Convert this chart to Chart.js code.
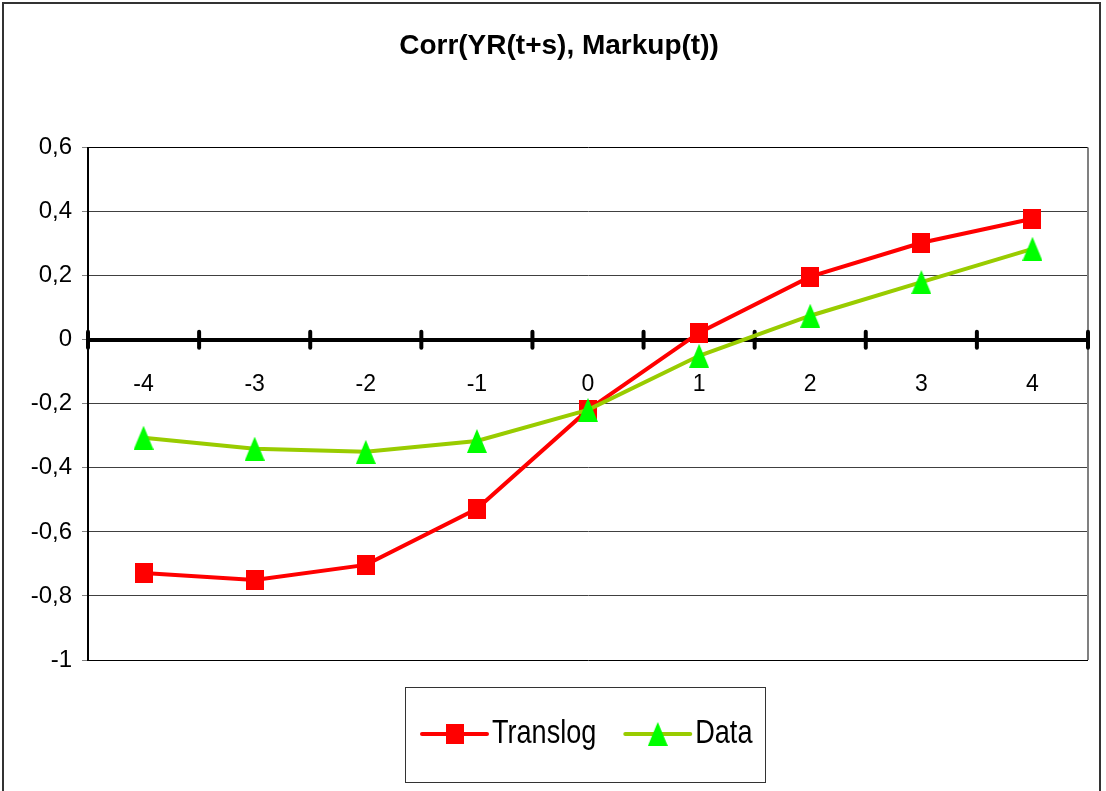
<!DOCTYPE html>
<html lang="en">
<head>
  <meta charset="UTF-8">
  <title>Corr(YR(t+s), Markup(t))</title>
  <script src="https://cdn.jsdelivr.net/npm/chart.js@4.4.2/dist/chart.umd.min.js"></script>
  <style>
    html, body { margin: 0; padding: 0; background: #fff; }
    .ch { width: 1106px; height: 791px; }
  </style>
</head>
<body>
<div class="ch">
  <canvas id="myChart" width="1106" height="791"></canvas>
</div>
<script>
const lags = ['-4', '-3', '-2', '-1', '0', '1', '2', '3', '4'];
const translog = [-0.728, -0.75, -0.703, -0.528, -0.219, 0.022, 0.197, 0.303, 0.378];
const dataSeries = [-0.306, -0.34, -0.35, -0.316, -0.219, -0.05, 0.075, 0.18, 0.284];
const yTicks = [-1, -0.8, -0.6, -0.4, -0.2, 0, 0.2, 0.4, 0.6];
const seriesNames = ['Translog', 'Data'];

const FONT = "'Liberation Sans', Arial, sans-serif";

// marker images
function squareMarker() {
  const c = document.createElement('canvas');
  c.width = 18; c.height = 20;
  const g = c.getContext('2d');
  g.fillStyle = '#ff0000';
  g.fillRect(0, 0, 18, 20);
  return c;
}
function triangleMarker() {
  const c = document.createElement('canvas');
  c.width = 20; c.height = 24;
  const g = c.getContext('2d');
  g.fillStyle = '#00ff00';
  g.beginPath();
  g.moveTo(10, 0); g.lineTo(20, 24); g.lineTo(0, 24);
  g.closePath();
  g.fill();
  return c;
}
const sq = squareMarker();
const tri = triangleMarker();

// frame + tick marks crossing the zero axis + boxed legend
const framePlugin = {
  id: 'frame',
  beforeDatasetsDraw(chart) {
    const ctx = chart.ctx, a = chart.chartArea;
    const xs = chart.scales.x, ys = chart.scales.y;
    ctx.save();
    ctx.strokeStyle = '#808080';
    ctx.lineWidth = 2;
    ctx.beginPath();
    ctx.moveTo(a.right, a.top); ctx.lineTo(a.right, a.bottom);
    ctx.stroke();
    const y0 = ys.getPixelForValue(0);
    ctx.strokeStyle = '#000';
    ctx.lineWidth = 4;
    ctx.lineCap = 'round';
    for (let i = 0; i <= lags.length; i++) {
      const px = xs.getPixelForValue(i - 0.5);
      ctx.beginPath();
      ctx.moveTo(px, y0 - 8); ctx.lineTo(px, y0 + 8);
      ctx.stroke();
    }
    ctx.restore();
  },
  afterDraw(chart) {
    const ctx = chart.ctx, a = chart.chartArea;
    ctx.save();
    // outer border
    ctx.strokeStyle = '#333';
    ctx.lineWidth = 2;
    ctx.strokeRect(3, 3, 1097, 900);
    // legend
    const left = (a.left + a.right) / 2 - 183;
    const top = a.bottom + 27;
    ctx.lineWidth = 1;
    ctx.strokeStyle = '#333';
    ctx.strokeRect(left + 0.5, top + 0.5, 360, 95);
    const ds = chart.data.datasets;
    const markers = [sq, tri];
    const squeeze = 0.82; // narrow look of the legend text
    ctx.font = '33px ' + FONT;
    ctx.textBaseline = 'alphabetic';
    ctx.fillStyle = '#000';
    let x = left + 17;
    const ly = top + 47;
    [0, 1].forEach(k => {
      const d = ds.find(s => s.label === seriesNames[k]);
      ctx.strokeStyle = d.borderColor;
      ctx.lineWidth = 4;
      ctx.lineCap = 'round';
      ctx.beginPath();
      ctx.moveTo(x, ly); ctx.lineTo(x + 65, ly);
      ctx.stroke();
      const m = markers[k];
      ctx.drawImage(m, x + 32.5 - m.width / 2, ly - m.height / 2);
      ctx.save();
      ctx.translate(x + 70, ly + 9);
      ctx.scale(squeeze, 1);
      ctx.fillText(seriesNames[k], 0, 0);
      ctx.restore();
      x += 70 + ctx.measureText(seriesNames[k]).width * squeeze + 29;
    });
    ctx.restore();
  }
};

const ctx = document.getElementById('myChart').getContext('2d');
const myChart = new Chart(ctx, {
  type: 'line',
  data: {
    labels: lags,
    datasets: [{
      label: seriesNames[0],
      data: translog,
      borderColor: '#ff0000',
      backgroundColor: '#ff0000',
      borderWidth: 4,
      pointStyle: sq,
      fill: false,
      tension: 0,
      order: 1
    }, {
      label: seriesNames[1],
      data: dataSeries,
      borderColor: '#99cc00',
      backgroundColor: '#00ff00',
      borderWidth: 4,
      pointStyle: tri,
      fill: false,
      tension: 0,
      order: 0
    }]
  },
  options: {
    responsive: false,
    animation: false,
    layout: { padding: { left: 30, right: 18, top: 0, bottom: 131 } },
    plugins: {
      legend: { display: false },
      tooltip: { enabled: false },
      title: {
        display: true,
        text: 'Corr(YR(t+s), Markup(t))',
        color: '#000',
        font: { family: FONT, size: 28, weight: 'bold' },
        padding: { top: 29, bottom: 85 }
      }
    },
    scales: {
      x: {
        type: 'category',
        offset: true,
        position: { y: 0 },
        grid: { display: false, drawTicks: false },
        border: { display: true, color: '#000', width: 4 },
        ticks: { color: '#000', font: { family: FONT, size: 23 }, padding: 31 }
      },
      y: {
        min: -1,
        max: 0.6,
        afterBuildTicks: s => { s.ticks = yTicks.map(v => ({ value: v })); },
        afterFit: s => { s.width = 58; },
        ticks: {
          color: '#000',
          font: { family: FONT, size: 24 },
          padding: 10,
          callback: v => String(Math.round(v * 10) / 10).replace('.', ',')
        },
        grid: {
          color: c => (c.tick && (c.tick.value === 0.6 || c.tick.value === -1)) ? '#000' : '#404040',
          lineWidth: 1,
          tickLength: 6,
          tickColor: '#808080'
        },
        border: { color: '#000', width: 2 }
      }
    }
  },
  plugins: [framePlugin]
});
</script>
</body>
</html>
